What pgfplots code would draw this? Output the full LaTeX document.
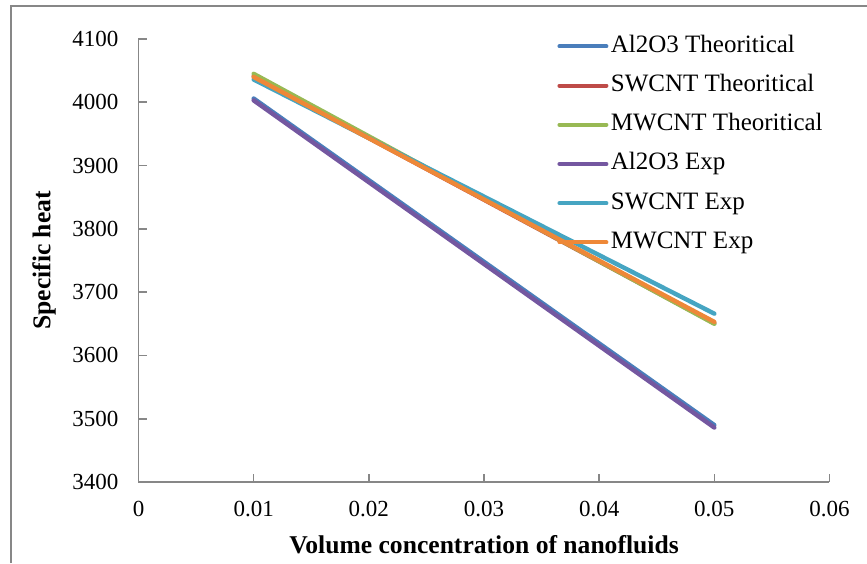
\documentclass[border=0pt]{standalone}
\usepackage{pgfplots}
\pgfplotsset{compat=1.18}
\usepackage{fontspec}
\setmainfont{Liberation Serif}
\definecolor{cBlue}{HTML}{4A7EBB}
\definecolor{cRed}{HTML}{BE4B48}
\definecolor{cGreen}{HTML}{98B954}
\definecolor{cPurple}{HTML}{7457A0}
\definecolor{cCyan}{HTML}{46A5C2}
\definecolor{cOrange}{HTML}{EE8838}
\definecolor{axgray}{HTML}{878787}
\begin{document}
\begin{tikzpicture}
\useasboundingbox (0,0) rectangle (433.5pt,281.5pt);
\draw[axgray, line width=0.8pt] (5.5pt,0) -- (5.5pt,278.5pt) -- (433.5pt,278.5pt);
\begin{axis}[
  at={(69.25pt,40.5pt)}, anchor=south west,
  scale only axis, width=345.5pt, height=221.5pt,
  xmin=0, xmax=0.06, ymin=3400, ymax=4100,
  axis x line*=bottom, axis y line*=left,
  axis line style={axgray, line width=0.9pt},
  tick pos=left, tick align=inside, major tick length=4pt,
  tick style={axgray, line width=0.8pt},
  scaled x ticks=false, scaled y ticks=false,
  /pgf/number format/assume math mode=true,
  xtick={0,0.01,0.02,0.03,0.04,0.05,0.06},
  xticklabels={0,0.01,0.02,0.03,0.04,0.05,0.06},
  ytick={3400,3500,3600,3700,3800,3900,4000,4100},
  yticklabels={3400,3500,3600,3700,3800,3900,4000,4100},
  ticklabel style={font=\rmfamily\fontsize{11.5}{13}\selectfont},
  xticklabel style={yshift=-6pt},
  yticklabel style={xshift=-6.5pt},
  xlabel={\textbf{Volume concentration of nanofluids}},
  ylabel={\textbf{Specific heat}},
  label style={font=\fontsize{12.8}{14}\selectfont},
  xlabel style={at={(axis description cs:0.5,-0.142)}, anchor=center},
  ylabel style={at={(axis description cs:-0.1368,0.5)}, anchor=center, rotate=0},
  legend cell align=left,
  legend style={at={(rel axis cs:0.6057,1.017)}, anchor=north west, draw=none, fill=none,
    font=\fontsize{12.5}{15}\selectfont, inner sep=0pt, row sep=5.1pt,
    nodes={inner sep=1.25pt, text height=9pt, text depth=3pt}},
  legend image code/.code={\draw[line width=2pt, line cap=round, #1] (0pt,0pt) -- (23.5pt,0pt);},
  every axis plot/.append style={line width=2.2pt, line cap=round, mark=none},
]
\addplot[cBlue] coordinates {(0.01,4006) (0.05,3490)};
\addlegendentry{Al2O3 Theoritical}
\addplot[cRed] coordinates {(0.01,4041) (0.05,3651)};
\addlegendentry{SWCNT Theoritical}
\addplot[cGreen] coordinates {(0.01,4045) (0.05,3650)};
\addlegendentry{MWCNT Theoritical}
\addplot[cPurple] coordinates {(0.01,4003) (0.05,3486)};
\addlegendentry{Al2O3 Exp}
\addplot[cCyan] coordinates {(0.01,4036) (0.05,3666)};
\addlegendentry{SWCNT Exp}
\addplot[cOrange] coordinates {(0.01,4040) (0.05,3653)};
\addlegendentry{MWCNT Exp}
\end{axis}
\end{tikzpicture}
\end{document}
